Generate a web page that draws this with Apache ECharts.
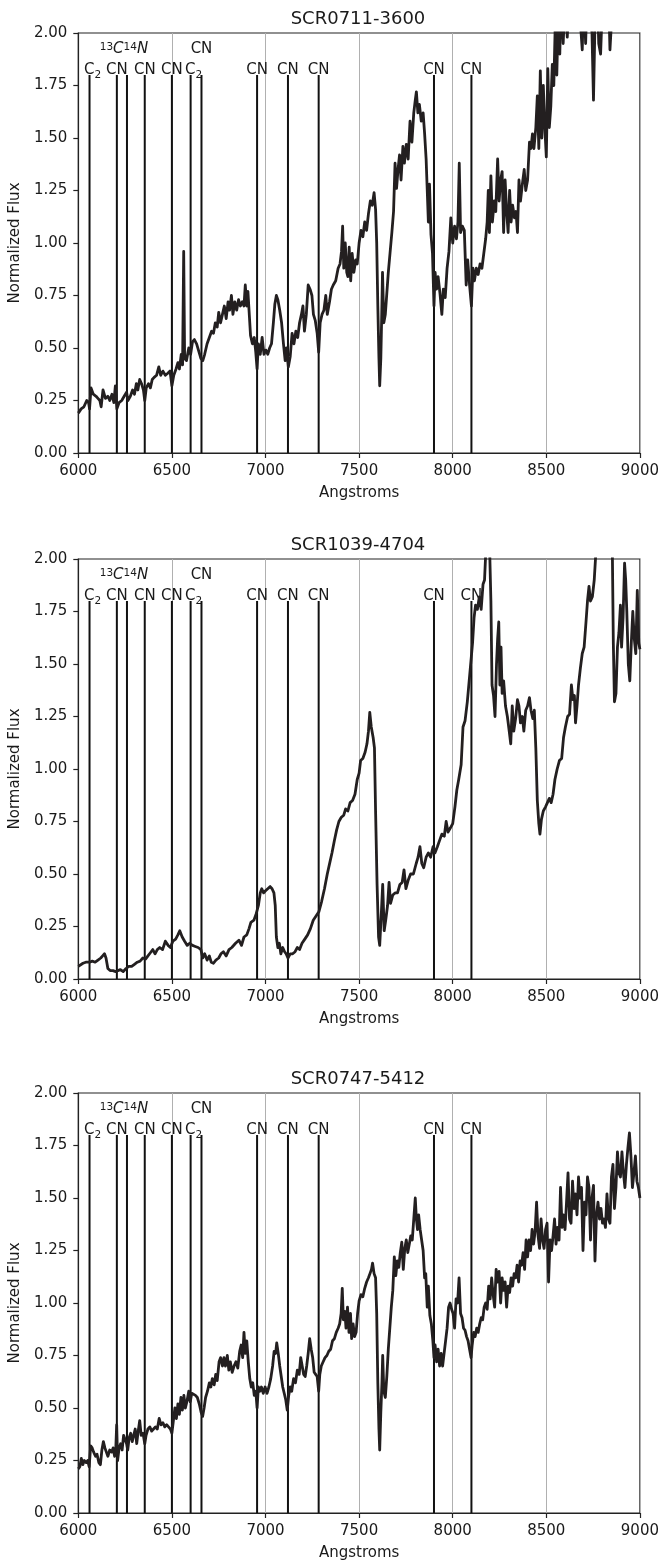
<!DOCTYPE html>
<html>
<head>
<meta charset="utf-8">
<script src="https://cdn.jsdelivr.net/npm/echarts@6.0.0/dist/echarts.min.js"></script>
<style>
  html, body { margin: 0; padding: 0; background: #ffffff; }
  #chart { width: 662px; height: 1562px; }
</style>
</head>
<body>
<div id="chart"></div>
<script>
// ---- Spectra (wavelength in Angstroms, normalized flux) ----
const starNames = ['SCR0711-3600', 'SCR1039-4704', 'SCR0747-5412'];

const wave0711 = [6000,6015,6030,6045,6055,6060,6068,6080,6095,6105,6115,6122,6132,6145,6158,6168,6180,6190,6198,6206,6218,6232,6245,6258,6265,6278,6290,6300,6310,6318,6328,6338,6348,6355,6363,6375,6385,6395,6405,6418,6430,6440,6452,6465,6478,6490,6500,6510,6522,6532,6540,6550,6557,6563,6568,6578,6590,6600,6610,6620,6632,6645,6655,6665,6675,6688,6700,6712,6722,6732,6742,6750,6760,6770,6780,6790,6800,6808,6818,6826,6836,6846,6856,6866,6876,6885,6892,6900,6906,6912,6920,6930,6940,6948,6955,6962,6972,6982,6992,7002,7012,7022,7032,7042,7050,7058,7066,7076,7086,7096,7105,7112,7122,7132,7142,7152,7162,7172,7182,7192,7200,7208,7218,7228,7238,7248,7256,7266,7276,7284,7292,7302,7312,7322,7330,7342,7352,7362,7375,7388,7398,7406,7412,7418,7426,7434,7440,7447,7455,7463,7472,7482,7490,7500,7510,7520,7530,7540,7550,7560,7570,7580,7588,7594,7600,7606,7610,7616,7620,7625,7632,7640,7648,7656,7665,7675,7684,7692,7700,7708,7716,7724,7734,7742,7752,7762,7772,7782,7792,7800,7806,7814,7822,7832,7842,7850,7858,7864,7870,7876,7884,7892,7900,7906,7914,7922,7932,7942,7950,7960,7970,7980,7990,8000,8010,8020,8028,8035,8042,8052,8062,8072,8080,8090,8100,8108,8116,8126,8136,8146,8156,8166,8176,8184,8190,8196,8204,8212,8222,8230,8240,8248,8256,8264,8272,8280,8288,8296,8304,8312,8320,8330,8338,8346,8354,8362,8372,8382,8390,8400,8410,8418,8426,8434,8444,8452,8460,8468,8476,8484,8492,8500,8508,8516,8524,8532,8540,8548,8556,8564,8572,8580,8590,8600,8612,8622,8634,8646,8660,8672,8682,8692,8700,8710,8720,8734,8744,8752,8760,8772,8780,8790,8800,8810,8820,8832,8840,8848];
const flux0711 = [0.19,0.21,0.22,0.25,0.24,0.21,0.31,0.28,0.27,0.26,0.25,0.22,0.30,0.26,0.27,0.25,0.28,0.24,0.32,0.21,0.24,0.25,0.27,0.29,0.25,0.27,0.30,0.28,0.33,0.30,0.35,0.33,0.30,0.25,0.31,0.33,0.31,0.35,0.36,0.37,0.41,0.37,0.39,0.37,0.38,0.39,0.32,0.37,0.40,0.43,0.40,0.47,0.42,0.96,0.45,0.44,0.50,0.47,0.53,0.54,0.52,0.48,0.45,0.44,0.47,0.52,0.55,0.58,0.57,0.62,0.60,0.67,0.62,0.66,0.70,0.64,0.72,0.68,0.75,0.66,0.72,0.68,0.73,0.70,0.72,0.70,0.80,0.70,0.77,0.68,0.56,0.52,0.55,0.48,0.40,0.52,0.47,0.55,0.47,0.49,0.47,0.50,0.52,0.62,0.71,0.75,0.73,0.68,0.62,0.52,0.44,0.50,0.41,0.46,0.57,0.52,0.58,0.55,0.62,0.66,0.70,0.58,0.66,0.80,0.78,0.75,0.66,0.63,0.57,0.48,0.62,0.66,0.68,0.75,0.66,0.72,0.78,0.80,0.82,0.88,0.90,0.96,1.08,0.88,1.00,0.86,0.84,0.98,0.82,0.95,0.86,0.92,0.90,1.00,1.06,1.03,1.10,1.06,1.14,1.20,1.18,1.24,1.16,1.00,0.70,0.45,0.32,0.45,0.62,0.86,0.62,0.66,0.76,0.86,0.95,1.05,1.15,1.38,1.26,1.35,1.42,1.30,1.46,1.38,1.47,1.40,1.58,1.48,1.62,1.68,1.72,1.62,1.66,1.58,1.62,1.52,1.40,1.25,1.10,1.28,1.04,0.95,0.70,0.86,0.78,0.84,0.76,0.66,0.78,0.74,0.88,0.96,1.12,1.00,1.08,1.02,1.10,1.38,1.05,1.08,1.06,0.80,0.92,0.80,0.70,0.88,0.82,0.88,0.85,0.90,0.88,0.95,1.02,1.10,1.25,1.05,1.32,1.10,1.20,1.15,1.40,1.20,1.30,1.34,1.05,1.30,1.15,1.05,1.25,1.10,1.18,1.12,1.15,1.05,1.30,1.20,1.28,1.35,1.25,1.30,1.48,1.45,1.52,1.45,1.55,1.70,1.45,1.82,1.50,1.75,1.55,1.41,1.83,1.55,1.65,1.85,1.75,2.05,1.80,2.10,1.90,2.20,1.95,2.15,1.98,2.20,2.05,2.25,2.10,2.30,2.05,1.92,2.20,1.95,2.25,2.10,2.00,1.68,2.05,2.20,1.95,1.90,2.15,2.30,2.10,2.20,1.92,2.05];

const wave1039 = [6000,6010,6025,6040,6060,6075,6090,6105,6120,6130,6140,6148,6158,6170,6185,6200,6212,6225,6240,6255,6270,6285,6300,6315,6330,6345,6360,6372,6385,6398,6410,6422,6435,6450,6465,6480,6492,6505,6520,6532,6542,6555,6568,6582,6595,6610,6625,6640,6655,6665,6675,6688,6700,6710,6722,6735,6750,6762,6775,6790,6805,6820,6840,6858,6872,6885,6900,6912,6922,6938,6950,6962,6972,6980,6990,7000,7012,7025,7035,7045,7052,7058,7066,7074,7082,7092,7102,7110,7120,7132,7145,7158,7170,7182,7195,7210,7225,7240,7255,7270,7285,7300,7315,7330,7345,7355,7368,7380,7392,7405,7418,7428,7440,7452,7465,7478,7490,7500,7508,7520,7532,7542,7550,7557,7565,7575,7582,7588,7596,7604,7610,7618,7626,7634,7642,7652,7660,7668,7680,7692,7705,7718,7730,7740,7750,7762,7775,7790,7805,7815,7825,7835,7845,7858,7870,7882,7895,7905,7918,7930,7942,7955,7965,7975,7988,8000,8012,8022,8032,8045,8055,8066,8078,8088,8098,8106,8114,8122,8132,8142,8152,8162,8170,8176,8182,8190,8198,8204,8210,8218,8226,8234,8240,8246,8252,8258,8264,8272,8282,8292,8302,8310,8318,8326,8336,8346,8354,8362,8372,8380,8390,8400,8410,8418,8428,8436,8444,8452,8460,8466,8474,8484,8496,8506,8516,8526,8536,8546,8558,8570,8582,8592,8602,8614,8624,8634,8642,8650,8656,8664,8672,8682,8692,8702,8712,8720,8728,8736,8746,8756,8766,8780,8800,8820,8840,8852,8858,8864,8872,8880,8888,8896,8902,8910,8918,8924,8930,8938,8946,8954,8962,8970,8978,8986,8994,9000];
const flux1039 = [0.06,0.065,0.075,0.08,0.08,0.085,0.08,0.09,0.10,0.11,0.12,0.10,0.05,0.04,0.04,0.035,0.04,0.045,0.035,0.05,0.06,0.06,0.07,0.08,0.085,0.10,0.095,0.11,0.125,0.14,0.12,0.14,0.15,0.14,0.18,0.16,0.15,0.18,0.19,0.21,0.23,0.20,0.18,0.16,0.17,0.16,0.155,0.15,0.14,0.10,0.12,0.09,0.11,0.08,0.075,0.09,0.10,0.12,0.13,0.11,0.14,0.15,0.17,0.185,0.16,0.20,0.21,0.24,0.27,0.28,0.31,0.35,0.41,0.43,0.41,0.42,0.43,0.44,0.43,0.41,0.35,0.20,0.15,0.17,0.12,0.15,0.13,0.12,0.10,0.12,0.12,0.13,0.15,0.14,0.17,0.19,0.21,0.24,0.28,0.30,0.32,0.37,0.43,0.50,0.56,0.60,0.66,0.71,0.75,0.77,0.78,0.81,0.80,0.84,0.85,0.88,0.95,0.98,1.04,1.05,1.08,1.12,1.18,1.27,1.20,1.15,1.10,0.80,0.45,0.20,0.16,0.30,0.45,0.23,0.28,0.35,0.46,0.36,0.40,0.41,0.41,0.45,0.46,0.52,0.43,0.47,0.50,0.50,0.55,0.58,0.63,0.55,0.53,0.58,0.60,0.58,0.63,0.60,0.63,0.66,0.69,0.68,0.75,0.70,0.72,0.74,0.82,0.90,0.95,1.02,1.20,1.23,1.32,1.42,1.52,1.60,1.72,1.78,1.76,1.82,1.76,1.88,1.90,2.02,2.10,2.05,2.02,1.80,1.40,1.35,1.25,1.50,1.62,1.70,1.40,1.58,1.36,1.42,1.30,1.25,1.18,1.12,1.30,1.18,1.24,1.33,1.30,1.22,1.25,1.18,1.28,1.30,1.34,1.28,1.24,1.28,1.10,0.85,0.74,0.69,0.76,0.80,0.82,0.84,0.86,0.84,0.88,0.95,1.00,1.04,1.05,1.15,1.20,1.25,1.26,1.40,1.33,1.35,1.22,1.30,1.40,1.48,1.55,1.58,1.70,1.80,1.87,1.80,1.82,1.90,2.05,2.30,2.50,2.60,2.40,2.10,1.60,1.32,1.36,1.58,1.65,1.78,1.58,1.72,1.98,1.90,1.75,1.50,1.42,1.60,1.75,1.62,1.55,1.85,1.60,1.57];

const wave0747 = [6000,6008,6016,6024,6032,6042,6050,6058,6066,6074,6082,6092,6100,6110,6118,6126,6134,6142,6150,6158,6168,6178,6186,6194,6200,6205,6210,6218,6226,6234,6242,6250,6258,6264,6272,6280,6288,6296,6304,6312,6320,6328,6336,6346,6355,6362,6372,6382,6392,6402,6412,6422,6432,6442,6452,6462,6472,6482,6492,6500,6508,6516,6524,6532,6540,6548,6556,6564,6572,6580,6590,6598,6606,6616,6626,6636,6646,6656,6664,6672,6680,6690,6700,6708,6716,6726,6734,6742,6752,6760,6770,6778,6786,6796,6804,6812,6822,6832,6842,6852,6862,6870,6878,6885,6892,6900,6908,6916,6924,6932,6940,6948,6955,6962,6970,6978,6988,6998,7008,7018,7028,7038,7046,7054,7060,7068,7076,7084,7092,7100,7108,7116,7124,7132,7140,7150,7160,7170,7180,7188,7196,7204,7212,7220,7228,7236,7244,7252,7260,7268,7276,7284,7290,7298,7308,7318,7328,7338,7348,7358,7368,7378,7388,7396,7404,7410,7416,7424,7430,7438,7446,7454,7460,7468,7476,7484,7492,7500,7510,7520,7530,7540,7550,7558,7566,7572,7580,7588,7594,7600,7606,7610,7616,7622,7626,7632,7640,7648,7656,7664,7672,7680,7688,7696,7704,7712,7720,7728,7736,7744,7752,7760,7768,7776,7784,7792,7800,7806,7812,7818,7826,7834,7842,7850,7856,7864,7870,7878,7886,7894,7900,7906,7914,7922,7930,7938,7946,7954,7962,7970,7978,7986,7994,8002,8010,8018,8026,8034,8042,8050,8058,8066,8074,8082,8090,8098,8104,8112,8120,8128,8136,8144,8152,8160,8168,8176,8184,8192,8200,8208,8216,8224,8232,8240,8248,8256,8264,8272,8280,8288,8296,8304,8312,8320,8328,8336,8344,8352,8360,8368,8376,8384,8392,8400,8408,8416,8424,8432,8440,8448,8456,8464,8472,8480,8488,8496,8504,8512,8520,8528,8536,8544,8552,8560,8568,8576,8584,8592,8600,8608,8616,8624,8632,8640,8648,8656,8664,8672,8680,8688,8696,8704,8712,8720,8728,8736,8744,8752,8760,8768,8776,8784,8792,8800,8808,8816,8824,8832,8840,8848,8856,8864,8872,8880,8888,8896,8904,8912,8920,8928,8936,8944,8952,8960,8968,8976,8984,8992,9000];
const flux0747 = [0.21,0.22,0.26,0.23,0.25,0.24,0.25,0.22,0.32,0.31,0.29,0.27,0.28,0.24,0.23,0.30,0.34,0.31,0.29,0.27,0.30,0.29,0.31,0.27,0.30,0.42,0.25,0.31,0.33,0.30,0.37,0.35,0.33,0.30,0.36,0.38,0.34,0.37,0.40,0.33,0.39,0.44,0.37,0.38,0.33,0.37,0.40,0.41,0.39,0.40,0.41,0.40,0.45,0.42,0.43,0.41,0.42,0.41,0.40,0.38,0.44,0.50,0.45,0.52,0.47,0.55,0.49,0.56,0.50,0.53,0.58,0.53,0.57,0.57,0.56,0.55,0.52,0.48,0.46,0.50,0.55,0.58,0.62,0.60,0.64,0.61,0.66,0.63,0.72,0.74,0.70,0.74,0.70,0.75,0.68,0.72,0.67,0.70,0.72,0.69,0.77,0.80,0.74,0.86,0.76,0.82,0.72,0.64,0.60,0.62,0.56,0.58,0.50,0.60,0.58,0.60,0.57,0.60,0.57,0.60,0.64,0.70,0.77,0.76,0.81,0.76,0.70,0.65,0.60,0.57,0.54,0.49,0.56,0.60,0.58,0.64,0.62,0.68,0.66,0.74,0.70,0.66,0.65,0.70,0.76,0.83,0.78,0.74,0.67,0.66,0.65,0.58,0.66,0.70,0.72,0.74,0.75,0.77,0.78,0.82,0.83,0.86,0.88,0.90,0.95,1.07,0.92,0.96,0.88,0.98,0.86,0.95,0.83,0.90,0.84,0.86,0.95,1.01,1.04,1.03,1.07,1.10,1.12,1.14,1.16,1.19,1.14,1.12,0.95,0.62,0.40,0.30,0.48,0.62,0.75,0.58,0.55,0.65,0.78,0.88,0.98,1.06,1.22,1.13,1.20,1.17,1.24,1.29,1.16,1.26,1.30,1.24,1.28,1.32,1.30,1.40,1.50,1.40,1.35,1.42,1.35,1.30,1.25,1.12,1.14,0.98,1.08,0.94,0.90,0.82,0.74,0.80,0.72,0.78,0.70,0.76,0.70,0.76,0.82,0.88,0.98,1.00,0.97,0.95,0.88,1.02,1.00,1.12,0.95,0.93,0.88,0.87,0.84,0.82,0.78,0.74,0.80,0.86,0.84,0.88,0.86,0.90,0.93,0.92,0.98,1.00,0.97,1.08,1.02,1.12,1.04,0.98,1.16,1.10,1.15,1.00,1.12,1.06,1.10,0.98,1.08,1.05,1.12,1.08,1.14,1.12,1.18,1.10,1.20,1.18,1.24,1.16,1.30,1.22,1.30,1.25,1.35,1.28,1.34,1.48,1.32,1.26,1.40,1.30,1.26,1.35,1.38,1.10,1.30,1.25,1.32,1.40,1.28,1.36,1.30,1.55,1.36,1.42,1.35,1.48,1.62,1.40,1.38,1.58,1.45,1.52,1.42,1.60,1.50,1.55,1.25,1.48,1.42,1.60,1.55,1.30,1.50,1.56,1.20,1.42,1.48,1.40,1.45,1.38,1.40,1.36,1.52,1.40,1.38,1.60,1.66,1.45,1.55,1.72,1.62,1.60,1.72,1.62,1.55,1.66,1.74,1.81,1.70,1.55,1.62,1.70,1.58,1.55,1.50];

const spectraWave = [wave0711, wave1039, wave0747];
const spectraFlux = [flux0711, flux1039, flux0747];

// ---- Molecular band heads marked on every panel ----
const bandWave  = [6060, 6206, 6260, 6355, 6500, 6600, 6658, 6955, 7120, 7284, 7900, 8100];
const bandLabel = ['C2', 'CN', '13C14N', 'CN', 'CN', 'C2', 'CN', 'CN', 'CN', 'CN', 'CN', 'CN'];
const bandTier  = [0, 0, 1, 0, 0, 0, 1, 0, 0, 0, 0, 0];

// ---- Axis ticks ----
const xTicks = { min: 6000, max: 9000, step: 500 };
const yTicks = { min: 0, max: 2, step: 0.25 };

// ---- Layout ----
const GRID_LEFT = 76, GRID_W = 564, GRID_H = 420;
const gridTops = [33, 559, 1093];
const LINE_TOP = 1.8;            // band marker height in flux units
const tierY = [1.8, 1.9];        // label anchors for the two rows
const FONT = "'DejaVu Sans', sans-serif";
const INK = '#1a1a1a';
const SPINE = '#222222';

function richText(name) {
  if (name === 'C2') return '{m|C}{sub|2}';
  if (name === '13C14N') return '{sup|13}{it|C}{sup|14}{it|N}';
  return '{m|' + name + '}';
}

const labelRich = {
  m:   { fontSize: 15, fontFamily: FONT, color: INK, lineHeight: 18, verticalAlign: 'top' },
  it:  { fontSize: 15, fontFamily: FONT, color: INK, fontStyle: 'italic', lineHeight: 18, verticalAlign: 'top' },
  sub: { fontSize: 10.5, fontFamily: FONT, color: INK, lineHeight: 8, verticalAlign: 'bottom' },
  sup: { fontSize: 10.5, fontFamily: FONT, color: INK, lineHeight: 9, verticalAlign: 'top' }
};

const grids = [], xAxes = [], yAxes = [], series = [], titles = [];

gridTops.forEach((top, i) => {
  grids.push({
    left: GRID_LEFT, top: top, width: GRID_W, height: GRID_H,
    show: true, borderColor: SPINE, borderWidth: 1.2, backgroundColor: 'transparent'
  });

  titles.push({
    text: starNames[i],
    left: GRID_LEFT + GRID_W / 2, top: top - 23, textAlign: 'center', padding: 0,
    textStyle: { fontFamily: FONT, fontSize: 18, fontWeight: 'normal', color: INK }
  });

  xAxes.push({
    type: 'value', gridIndex: i,
    min: xTicks.min, max: xTicks.max, interval: xTicks.step,
    name: 'Angstroms', nameLocation: 'middle', nameGap: 33,
    nameTextStyle: { fontFamily: FONT, fontSize: 15, color: INK },
    axisLine: { show: true, lineStyle: { color: SPINE, width: 1.2 } },
    axisTick: { show: true, inside: false, length: 5, lineStyle: { color: SPINE, width: 1.2 } },
    axisLabel: { fontFamily: FONT, fontSize: 15, color: INK, margin: 11,
                 formatter: v => String(v) },
    splitLine: { show: true, lineStyle: { color: '#b0b0b0', width: 1 } }
  });

  yAxes.push({
    type: 'value', gridIndex: i,
    min: yTicks.min, max: yTicks.max, interval: yTicks.step,
    name: 'Normalized Flux', nameLocation: 'middle', nameGap: 50, nameRotate: 90,
    nameTextStyle: { fontFamily: FONT, fontSize: 15, color: INK },
    axisLine: { show: true, lineStyle: { color: SPINE, width: 1.2 } },
    axisTick: { show: true, inside: false, length: 5, lineStyle: { color: SPINE, width: 1.2 } },
    axisLabel: { fontFamily: FONT, fontSize: 15, color: INK, margin: 11,
                 formatter: v => v.toFixed(2) },
    splitLine: { show: false }
  });

  // band marker lines
  series.push({
    type: 'custom', xAxisIndex: i, yAxisIndex: i, silent: true, z: 3,
    data: bandWave.map(w => [w, LINE_TOP]),
    encode: { x: 0, y: 1 },
    renderItem: (params, api) => {
      const p0 = api.coord([api.value(0), 0]);
      const p1 = api.coord([api.value(0), api.value(1)]);
      return {
        type: 'line',
        shape: { x1: p0[0], y1: p0[1], x2: p1[0], y2: p1[1] },
        style: { stroke: '#111111', lineWidth: 2 }
      };
    }
  });

  // band labels
  series.push({
    type: 'scatter', xAxisIndex: i, yAxisIndex: i, silent: true, z: 4,
    symbolSize: 0,
    itemStyle: { opacity: 1 },
    data: bandWave.map((w, k) => ({
      value: [w, tierY[bandTier[k]]],
      label: {
        formatter: richText(bandLabel[k]),
        offset: bandLabel[k] === 'C2' ? [3, 6] : (bandLabel[k] === '13C14N' ? [-3, 6] : [0, 6])
      }
    })),
    label: { show: true, position: 'top', distance: 0, color: INK, opacity: 1, rich: labelRich }
  });

  // spectrum
  series.push({
    type: 'line', xAxisIndex: i, yAxisIndex: i, z: 5,
    data: spectraWave[i].map((w, k) => [w, spectraFlux[i][k]]),
    showSymbol: false, symbol: 'none', clip: true,
    lineStyle: { color: '#231f20', width: 2.8, join: 'round' }
  });
});

const chart = echarts.init(document.getElementById('chart'), null, { renderer: 'canvas' });
chart.setOption({
  animation: false,
  backgroundColor: '#ffffff',
  title: titles,
  grid: grids,
  xAxis: xAxes,
  yAxis: yAxes,
  series: series
});
</script>
</body>
</html>
